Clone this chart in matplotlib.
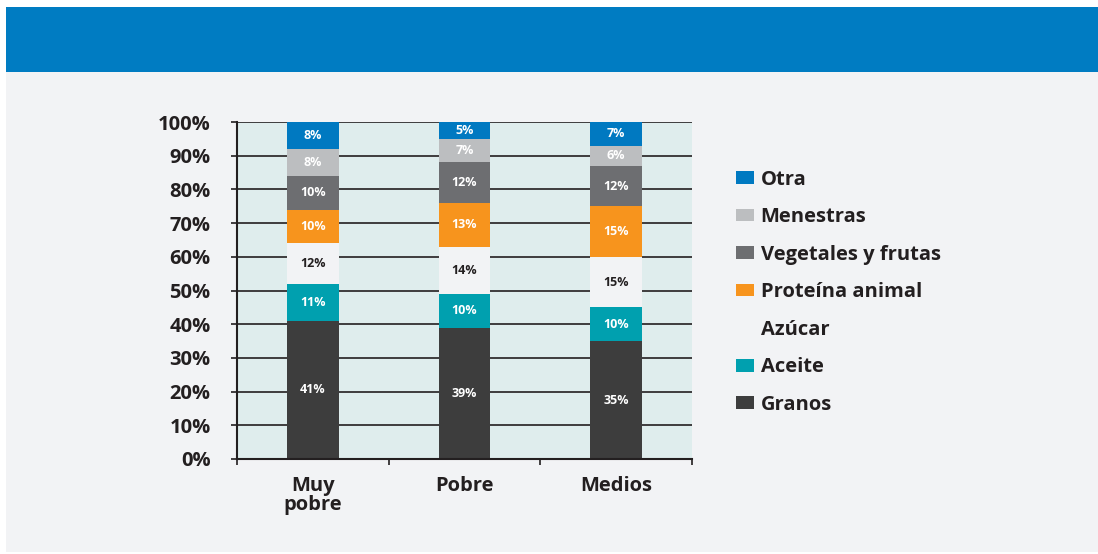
import matplotlib
matplotlib.use('Agg')
import matplotlib.pyplot as plt
from matplotlib.patches import Rectangle, Patch
import numpy as np

plt.rcParams['font.family'] = ['Open Sans', 'DejaVu Sans']
plt.rcParams['font.weight'] = 'bold'

# --- Data: share of food spending by group (%) ---
groups = ['Muy\npobre', 'Pobre', 'Medios']
categories = ['Granos', 'Aceite', 'Azúcar', 'Proteína animal',
              'Vegetales y frutas', 'Menestras', 'Otra']
granos    = [41, 39, 35]
aceite    = [11, 10, 10]
azucar    = [12, 14, 15]
proteina  = [10, 13, 15]
vegetales = [10, 12, 12]
menestras = [8, 7, 6]
otra      = [8, 5, 7]

series = [granos, aceite, azucar, proteina, vegetales, menestras, otra]
colors = ['#3d3d3d', '#00a0af', '#f2f3f5', '#f7941d',
          '#6d6e71', '#bcbec0', '#0079c1']
text_colors = ['white', 'white', '#231f20', 'white', 'white', 'white', 'white']

bg = '#f2f3f5'
ink = '#231f20'
fs = 14.5

fig = plt.figure(figsize=(10.98, 5.54), dpi=100, facecolor='white')

# panel background and blue header band
fig.patches.append(Rectangle((6 / 1098, 2 / 554), 1 - 6 / 1098, 1 - 9 / 554,
                             transform=fig.transFigure, facecolor=bg,
                             edgecolor='none', zorder=-2))
fig.patches.append(Rectangle((6 / 1098, 1 - 72 / 554), 1 - 6 / 1098, 65 / 554,
                             transform=fig.transFigure, facecolor='#007cc2',
                             edgecolor='none', zorder=-1))

ax = fig.add_axes([237 / 1098, 95 / 554, 455 / 1098, 337 / 554])
ax.set_facecolor('#dfeded')

x = np.arange(len(groups))
bar_width = 0.34
bottom = np.zeros(len(groups))
for vals, col, tcol in zip(series, colors, text_colors):
    vals = np.array(vals, dtype=float)
    ax.bar(x, vals, bar_width, bottom=bottom, color=col, edgecolor='none',
           zorder=3)
    for xi, b, v in zip(x, bottom, vals):
        ax.text(xi, b + v / 2, f'{v:.0f}%', ha='center', va='center',
                fontsize=9, fontweight='bold', color=tcol, zorder=4)
    bottom += vals

ax.set_xlim(-0.5, 2.5)
ax.set_ylim(0, 100)

# y axis
yt = np.arange(0, 101, 10)
ax.set_yticks(yt)
ax.set_yticklabels([f'{v}%' for v in yt])
ax.yaxis.grid(True, color=ink, linewidth=1.2, zorder=1)
ax.set_axisbelow(True)
ax.tick_params(axis='y', length=4, width=1.2, color=ink, pad=15,
               labelsize=fs, labelcolor=ink)

# x axis: labels at bar centres, tick marks between groups
ax.set_xticks(x)
ax.set_xticklabels(groups, fontsize=fs, color=ink, linespacing=0.95)
ax.set_xticks([-0.5, 0.5, 1.5, 2.5], minor=True)
ax.tick_params(axis='x', which='major', length=0, pad=12)
ax.tick_params(axis='x', which='minor', length=4, width=1.2, color=ink)

for s in ['top', 'right']:
    ax.spines[s].set_visible(False)
for s in ['left', 'bottom']:
    ax.spines[s].set_color(ink)
    ax.spines[s].set_linewidth(1.5)
    ax.spines[s].set_zorder(5)

# legend, top entry first
handles = [Patch(facecolor=c, edgecolor='none', label=l)
           for c, l in zip(colors, categories)][::-1]
ax.legend(handles=handles, loc='center left', bbox_to_anchor=(1.08, 0.495),
          frameon=False, fontsize=fs, handlelength=0.85, handleheight=0.6,
          handletextpad=0.35, labelspacing=0.87, borderaxespad=0,
          labelcolor=ink)

plt.savefig('out.png', dpi=100, facecolor=fig.get_facecolor())
